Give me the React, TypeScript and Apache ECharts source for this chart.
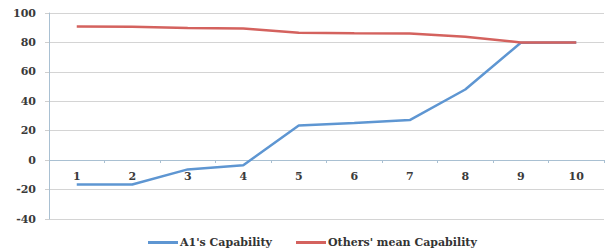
import React, { useEffect, useRef } from "react";
import * as echarts from "echarts";

const categories = ["1", "2", "3", "4", "5", "6", "7", "8", "9", "10"];
const a1Capability = [-16.6, -16.5, -6.3, -3.4, 23.5, 25.2, 27.2, 48, 79.8, 80];
const othersMean = [90.8, 90.6, 89.8, 89.4, 86.6, 86.2, 86, 83.8, 80, 80];
const yTicks = { min: -40, max: 100, interval: 20 };

const FONT = "'DejaVu Serif', 'Liberation Serif', serif";

export default function App() {
  const ref = useRef<HTMLDivElement>(null);
  useEffect(() => {
    document.body.style.margin = "0";
    const chart = echarts.init(ref.current!, null, { renderer: "svg" });
    chart.setOption({
      animation: false,
      backgroundColor: "#ffffff",
      grid: { left: 49, right: 1, top: 13, bottom: 32, containLabel: false },
      legend: {
        left: 143,
        top: 232,
        itemWidth: 30,
        itemHeight: 3,
        itemGap: 24,
        icon: "rect",
        textStyle: { fontFamily: FONT, fontWeight: "bold", fontSize: 11, color: "#333", padding: [0, 0, 0, -3] },
        data: ["A1's Capability", "Others' mean Capability"],
      },
      xAxis: {
        type: "category",
        data: categories,
        boundaryGap: true,
        position: "bottom",
        offset: -59,
        axisLine: { onZero: false, lineStyle: { color: "#a9c0d2", width: 1 } },
        axisTick: { show: true, length: 3, lineStyle: { color: "#a9c0d2" } },
        axisLabel: { margin: 11, fontFamily: FONT, fontWeight: "bold", fontSize: 11, color: "#3a3a3a" },
        splitLine: { show: false },
      },
      yAxis: {
        type: "value",
        min: yTicks.min,
        max: yTicks.max,
        interval: yTicks.interval,
        axisLine: { show: true, lineStyle: { color: "#a9c0d2", width: 1 } },
        axisTick: { show: true, length: 4, lineStyle: { color: "#cfcfcf" } },
        axisLabel: { margin: 13, fontFamily: FONT, fontWeight: "bold", fontSize: 11, color: "#3a3a3a" },
        splitLine: { show: true, lineStyle: { color: "#d4d4d4", width: 1 } },
      },
      series: [
        {
          name: "A1's Capability",
          type: "line",
          data: a1Capability,
          symbol: "none",
          lineStyle: { color: "#5e96d2", width: 2.5 },
          itemStyle: { color: "#5e96d2" },
          z: 2,
        },
        {
          name: "Others' mean Capability",
          type: "line",
          data: othersMean,
          symbol: "none",
          lineStyle: { color: "#d4625e", width: 2.5 },
          itemStyle: { color: "#d4625e" },
          z: 3,
        },
      ],
    });
    return () => chart.dispose();
  }, []);
  return <div ref={ref} style={{ width: 605, height: 251 }} />;
}
